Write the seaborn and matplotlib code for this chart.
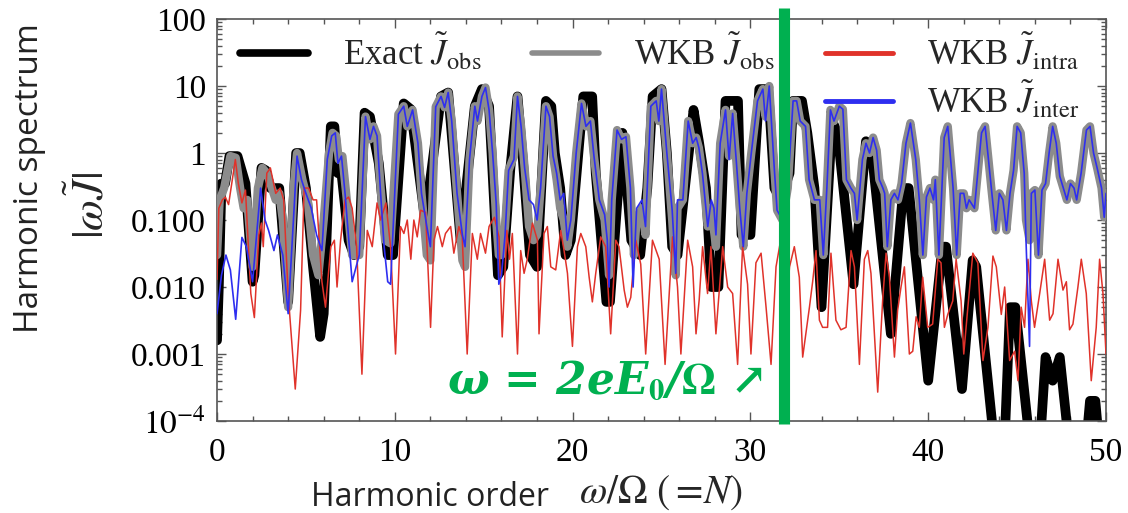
import matplotlib
matplotlib.use("Agg")
import matplotlib.pyplot as plt
from matplotlib.lines import Line2D
from matplotlib.ticker import FixedLocator, MultipleLocator, NullFormatter, LogLocator
import seaborn as sns

# ---- harmonic spectra: harmonic order N and |omega J~| for each curve ----
n_inter = [0.0, 0.25, 0.5, 0.75, 1.05, 1.4, 1.65, 2.0, 2.45, 2.7,
           2.9, 3.2, 3.4, 3.7, 4.0, 4.5, 4.75, 5.0, 5.3, 5.6,
           5.9, 6.2, 6.45, 6.65, 6.8, 7.0, 7.2, 7.6, 8.0, 8.35,
           8.6, 8.8, 9.0, 9.2, 9.4, 9.6, 9.76, 10.2, 10.5, 10.7,
           11.0, 11.3, 11.5, 11.8, 12.0, 12.3, 12.6, 12.8, 13.0, 13.2,
           13.5, 13.8, 13.95, 14.2, 14.5, 14.65, 14.9, 15.1, 15.3, 15.5,
           15.7, 15.85, 16.0, 16.2, 16.4, 16.7, 16.9, 17.1, 17.3, 17.55,
           17.8, 18.0, 18.2, 18.5, 18.7, 18.9, 19.1, 19.3, 19.5, 19.7,
           19.9, 20.2, 20.5, 20.75, 21.0, 21.2, 21.5, 21.8, 21.95, 22.05,
           22.2, 22.5, 22.75, 23.0, 23.25, 23.4, 23.6, 23.9, 24.1, 24.4,
           24.7, 24.85, 25.0, 25.3, 25.6, 25.8, 25.9, 26.2, 26.5, 26.75,
           26.95, 27.1, 27.3, 27.6, 27.8, 27.95, 28.06, 28.3, 28.6, 28.8,
           29.0, 29.2, 29.4, 29.6, 29.8, 30.05, 30.4, 30.7, 30.85, 31.06,
           31.35, 31.5, 31.8, 32.1, 32.4, 32.6, 32.8, 33.1, 33.3, 33.6,
           33.9, 34.1, 34.3, 34.5, 34.7, 35.0, 35.2, 35.4, 35.65, 35.85,
           36.0, 36.3, 36.5, 36.7, 36.9, 37.1, 37.25, 37.45, 37.55, 37.7,
           37.9, 38.1, 38.3, 38.5, 38.75, 39.0, 39.3, 39.5, 39.7, 39.9,
           40.1, 40.3, 40.4, 40.6, 40.9, 41.1, 41.4, 41.6, 41.8, 42.0,
           42.15, 42.3, 42.6, 42.8, 43.0, 43.2, 43.35, 43.55, 43.8, 44.0,
           44.2, 44.4, 44.6, 44.8, 45.0, 45.2, 45.4, 45.5, 45.7, 45.8,
           46.0, 46.2, 46.4, 46.6, 46.8, 47.0, 47.2, 47.4, 47.6, 47.8,
           48.0, 48.2, 48.35, 48.6, 48.9, 49.1, 49.3, 49.5, 49.75, 49.9, 50.0]
J_inter = [0.004, 0.015, 0.03, 0.018, 0.0033, 0.055, 0.04, 0.012, 0.3, 0.1,
           0.07, 0.035, 0.06, 0.03, 0.004, 0.9, 0.4, 0.25, 0.15, 0.06,
           0.035, 0.8, 1.8, 2.0, 0.7, 0.9, 0.25, 0.012, 0.03, 3.5,
           1.6, 2.5, 1.8, 0.25, 0.04, 0.012, 0.011, 3.8, 5.0, 2.5,
           4.4, 1.4, 0.25, 0.08, 0.04, 4.9, 7.0, 4.8, 8.0, 3.0,
           0.25, 0.06, 0.04, 0.8, 5.0, 3.0, 7.0, 9.5, 4.4, 1.0,
           0.18, 0.011, 0.015, 0.06, 0.55, 0.8, 7.0, 2.5, 0.6, 0.2,
           0.17, 0.1, 0.3, 5.0, 3.5, 0.9, 0.5, 0.2, 0.25, 0.05,
           0.1, 1.0, 5.5, 2.5, 3.0, 0.9, 0.2, 0.12, 0.05, 0.01,
           0.2, 2.2, 1.6, 1.75, 0.3, 0.01, 0.15, 0.2, 0.08, 5.0,
           6.0, 3.0, 9.0, 1.0, 0.14, 0.016, 0.2, 0.2, 3.0, 1.4,
           1.7, 1.2, 0.5, 0.08, 0.2, 0.15, 0.06, 1.4, 4.4, 0.8,
           3.9, 0.8, 0.15, 0.04, 0.25, 1.0, 6.0, 9.0, 3.0, 10.0,
           0.55, 0.14, 0.1, 0.3, 6.0, 6.0, 3.0, 2.5, 0.4, 0.2,
           0.2, 0.03, 0.3, 4.4, 3.0, 5.0, 4.5, 0.4, 0.3, 0.25,
           0.1, 0.8, 1.4, 1.0, 1.7, 1.1, 0.4, 0.3, 0.25, 0.04,
           0.2, 0.25, 0.2, 0.35, 1.4, 2.8, 0.8, 0.2, 0.03, 0.22,
           0.3, 0.2, 0.4, 0.03, 1.7, 2.5, 0.3, 0.03, 0.25, 0.25,
           0.15, 0.2, 0.15, 0.55, 2.0, 2.5, 1.0, 0.3, 0.07, 0.25,
           0.2, 0.07, 0.25, 0.55, 2.5, 2.0, 0.5, 0.05, 0.0013, 0.25,
           0.28, 0.03, 0.28, 0.35, 1.0, 2.5, 1.4, 0.45, 0.3, 0.2,
           0.35, 0.3, 0.2, 0.5, 2.2, 2.5, 1.0, 0.6, 0.3, 0.11, 0.25]

n_obs = [0.0, 0.15, 0.4, 0.75, 1.05, 1.3, 1.5, 1.7, 2.0, 2.3,
         2.55, 2.8, 3.0, 3.3, 3.5, 3.7, 4.0, 4.3, 4.5, 4.8,
         5.1, 5.4, 5.7, 6.0, 6.3, 6.5, 6.7, 6.85, 7.05, 7.3,
         7.6, 8.0, 8.35, 8.6, 8.8, 9.0, 9.2, 9.45, 9.75, 10.2,
         10.5, 10.7, 11.0, 11.3, 11.5, 11.8, 12.0, 12.3, 12.6, 12.8,
         13.0, 13.2, 13.5, 13.8, 13.95, 14.2, 14.5, 14.65, 14.9, 15.1,
         15.3, 15.5, 15.7, 15.85, 16.0, 16.2, 16.4, 16.7, 16.9, 17.1,
         17.3, 17.55, 17.8, 18.0, 18.2, 18.5, 18.7, 18.9, 19.1, 19.3,
         19.5, 19.7, 19.9, 20.2, 20.5, 20.75, 21.0, 21.2, 21.5, 21.8,
         22.05, 22.2, 22.5, 22.75, 23.0, 23.25, 23.45, 23.6, 23.9, 24.1,
         24.4, 24.7, 24.85, 25.0, 25.3, 25.6, 25.8, 25.9, 26.2, 26.5,
         26.75, 26.95, 27.1, 27.3, 27.6, 27.8, 28.06, 28.3, 28.6, 28.8,
         29.0, 29.2, 29.4, 29.6, 29.8, 30.05, 30.4, 30.7, 30.85, 31.06,
         31.35, 31.5, 31.8, 32.1, 32.4, 32.6, 32.8, 33.1, 33.3, 33.6,
         33.9, 34.1, 34.3, 34.5, 34.7, 35.0, 35.2, 35.4, 35.65, 35.85,
         36.0, 36.3, 36.5, 36.7, 36.9, 37.1, 37.25, 37.45, 37.55, 37.7,
         37.9, 38.1, 38.3, 38.5, 38.75, 39.0, 39.3, 39.5, 39.7, 39.9,
         40.1, 40.3, 40.4, 40.6, 40.9, 41.1, 41.4, 41.6, 41.8, 42.0,
         42.15, 42.3, 42.6, 42.8, 43.0, 43.2, 43.35, 43.55, 43.8, 44.0,
         44.2, 44.4, 44.6, 44.8, 45.0, 45.2, 45.4, 45.5, 45.7, 45.8,
         46.0, 46.2, 46.4, 46.6, 46.8, 47.0, 47.2, 47.4, 47.6, 47.8,
         48.0, 48.2, 48.35, 48.6, 48.9, 49.1, 49.3, 49.5, 49.75, 49.9, 50.0]
J_obs = [0.03, 0.2, 0.3, 0.9, 0.85, 0.3, 0.15, 0.2, 0.02, 0.3,
         0.6, 0.5, 0.35, 0.2, 0.25, 0.1, 0.005, 0.3, 1.0, 0.4,
         0.2, 0.03, 0.015, 0.1, 1.0, 2.0, 1.8, 0.8, 0.9, 0.2,
         0.03, 0.03, 3.5, 1.6, 2.5, 1.8, 0.3, 0.05, 0.045, 3.8,
         5.0, 2.5, 4.4, 1.4, 0.25, 0.03, 0.025, 4.9, 7.0, 4.8,
         8.0, 3.0, 0.25, 0.025, 0.02, 0.8, 5.0, 3.0, 7.0, 9.5,
         4.4, 1.0, 0.1, 0.03, 0.03, 0.08, 0.55, 0.9, 7.0, 2.5,
         0.6, 0.08, 0.05, 0.06, 0.3, 5.0, 3.5, 0.9, 0.4, 0.15,
         0.1, 0.04, 0.1, 1.0, 5.5, 2.5, 3.0, 0.9, 0.2, 0.1,
         0.015, 0.2, 2.2, 1.6, 1.75, 0.3, 0.03, 0.1, 0.15, 0.06,
         5.0, 6.0, 3.0, 9.0, 1.0, 0.1, 0.015, 0.15, 0.2, 3.0,
         1.4, 1.7, 1.2, 0.5, 0.08, 0.15, 0.04, 1.4, 4.4, 0.9,
         3.9, 0.8, 0.15, 0.04, 0.25, 1.0, 6.0, 9.0, 3.5, 10.0,
         0.55, 0.14, 0.1, 0.3, 6.0, 6.0, 3.0, 2.5, 0.4, 0.2,
         0.2, 0.03, 0.3, 4.4, 3.0, 5.0, 4.5, 0.4, 0.3, 0.25,
         0.1, 0.8, 1.4, 1.0, 1.7, 1.1, 0.4, 0.3, 0.25, 0.04,
         0.2, 0.25, 0.2, 0.35, 1.4, 2.8, 0.8, 0.2, 0.03, 0.22,
         0.3, 0.2, 0.4, 0.03, 1.7, 2.5, 0.3, 0.03, 0.25, 0.25,
         0.15, 0.2, 0.15, 0.55, 2.0, 2.5, 1.0, 0.3, 0.07, 0.25,
         0.2, 0.07, 0.25, 0.55, 2.5, 2.0, 0.5, 0.1, 0.05, 0.25,
         0.28, 0.03, 0.28, 0.35, 1.0, 2.5, 1.4, 0.45, 0.3, 0.2,
         0.35, 0.3, 0.2, 0.5, 2.2, 2.5, 1.0, 0.6, 0.3, 0.11, 0.25]

n_exact = [0.0, 0.1, 0.25, 0.45, 0.7, 1.15, 1.6, 2.0, 2.1, 2.5,
           2.75, 3.0, 3.5, 4.0, 4.45, 4.65, 5.0, 5.4, 5.8, 6.0,
           6.4, 6.6, 6.8, 7.0, 7.4, 7.7, 8.0, 8.3, 8.6, 9.1,
           9.6, 9.9, 10.5, 10.9, 11.7, 12.6, 13.0, 13.7, 14.5, 14.9,
           15.3, 15.8, 16.1, 16.5, 16.9, 17.2, 17.6, 18.0, 18.5, 18.8,
           19.0, 19.3, 19.6, 19.9, 20.6, 21.1, 21.3, 21.9, 22.1, 22.8,
           23.3, 23.8, 24.2, 24.5, 25.0, 25.3, 25.6, 25.9, 26.8, 27.1,
           27.5, 27.8, 28.2, 28.6, 29.3, 29.5, 30.0, 30.5, 31.0, 31.35,
           31.7, 32.2, 32.4, 32.9, 33.2, 33.6, 34.0, 34.6, 34.9, 35.8,
           36.5, 36.8, 37.9, 38.6, 38.9, 40.0, 40.8, 41.0, 41.9, 42.5,
           42.7, 43.7, 44.3, 44.6, 44.9, 45.7, 46.3, 46.6, 47.0, 47.4,
           47.9, 48.9, 49.1, 49.4, 49.6, 50.0]
J_exact = [0.0016, 0.01, 0.35, 0.35, 0.9, 0.9, 0.35, 0.012, 0.015, 0.6,
           0.55, 0.3, 0.3, 0.006, 1.0, 1.0, 0.3, 0.02, 0.0018, 0.004,
           2.5, 2.5, 0.5, 0.5, 0.05, 0.03, 0.04, 4.0, 3.5, 0.7,
           0.03, 0.03, 5.5, 4.5, 0.1, 7.0, 8.0, 0.05, 5.0, 9.0,
           5.0, 0.015, 0.02, 0.6, 7.0, 0.8, 0.03, 0.02, 6.0, 5.0,
           1.0, 0.3, 0.03, 0.05, 7.0, 7.0, 0.5, 0.006, 0.006, 2.0,
           0.05, 0.03, 0.3, 7.0, 9.0, 1.0, 0.04, 0.03, 4.4, 1.5,
           0.3, 0.01, 0.01, 6.0, 6.0, 0.06, 0.06, 9.0, 9.0, 0.3,
           0.2, 0.5, 6.0, 6.0, 2.0, 0.3, 0.005, 3.0, 2.0, 0.011,
           1.5, 1.2, 0.002, 0.3, 0.3, 0.0004, 0.04, 0.04, 0.0003, 0.025,
           0.02, 5e-5, 5e-5, 0.005, 0.005, 5e-5, 5e-5, 0.0009, 0.0004, 0.0009,
           5e-5, 5e-5, 0.0002, 0.0002, 5e-5, 5e-5]

n_intra = [0.0, 0.1, 0.3, 0.47, 0.65, 1.03, 1.2, 1.4, 1.6, 1.9,
           2.1, 2.35, 2.5, 2.6, 2.8, 3.0, 3.3, 3.55, 3.75, 4.0,
           4.4, 4.7, 4.9, 5.15, 5.4, 5.6, 5.9, 6.1, 6.4, 6.6,
           6.75, 6.95, 7.2, 7.4, 7.6, 7.85, 8.15, 8.45, 8.73, 9.0,
           9.2, 9.5, 9.76, 10.04, 10.32, 10.51, 10.7, 10.9, 11.07, 11.26,
           11.45, 11.73, 12.01, 12.2, 12.4, 12.67, 12.85, 13.14, 13.32, 13.6,
           13.79, 14.07, 14.36, 14.64, 14.82, 15.1, 15.3, 15.6, 15.86, 16.04,
           16.3, 16.45, 16.61, 16.9, 17.08, 17.27, 17.45, 17.74, 18.02, 18.11,
           18.39, 18.58, 18.77, 19.05, 19.33, 19.52, 19.71, 19.99, 20.27, 20.46,
           20.74, 20.93, 21.11, 21.3, 21.58, 21.86, 22.14, 22.43, 22.61, 22.9,
           23.08, 23.27, 23.55, 23.83, 24.11, 24.49, 24.87, 25.2, 25.62, 25.9,
           26.09, 26.47, 26.75, 26.94, 27.12, 27.31, 27.59, 27.78, 28.06, 28.44,
           28.72, 29.0, 29.28, 29.56, 29.84, 30.03, 30.31, 30.6, 30.88, 31.16,
           31.44, 31.7, 32.0, 32.2, 32.47, 32.75, 32.94, 33.32, 33.5, 33.69,
           33.88, 34.06, 34.34, 34.53, 34.81, 35.09, 35.38, 35.66, 35.85, 36.13,
           36.41, 36.6, 36.78, 37.16, 37.44, 37.63, 37.82, 38.1, 38.28, 38.47,
           38.66, 38.94, 39.13, 39.32, 39.5, 39.69, 39.97, 40.25, 40.54, 40.72,
           40.91, 41.1, 41.38, 41.57, 41.85, 42.0, 42.23, 42.51, 42.79, 43.08,
           43.36, 43.64, 43.83, 44.11, 44.3, 44.58, 44.86, 45.05, 45.23, 45.42,
           45.61, 45.8, 45.98, 46.27, 46.55, 46.83, 47.02, 47.3, 47.58, 47.77,
           47.95, 48.14, 48.42, 48.61, 48.89, 49.17, 49.45, 49.64, 49.83, 50.0]
J_intra = [0.013, 0.15, 0.2, 0.22, 0.17, 0.8, 0.35, 0.18, 0.28, 0.008,
           0.0035, 0.06, 0.09, 0.04, 0.5, 0.6, 0.25, 0.3, 0.2, 0.008,
           0.0003, 0.0045, 0.3, 0.3, 0.2, 0.2, 0.012, 0.005, 0.04, 0.05,
           0.01, 0.05, 0.2, 0.22, 0.15, 0.04, 0.0005, 0.07, 0.04, 0.18,
           0.1, 0.18, 0.04, 0.001, 0.08, 0.063, 0.1, 0.026, 0.1, 0.056,
           0.14, 0.13, 0.0025, 0.05, 0.08, 0.04, 0.063, 0.08, 0.032, 0.08,
           0.056, 0.001, 0.063, 0.026, 0.063, 0.032, 0.08, 0.11, 0.056, 0.0018,
           0.07, 0.026, 0.063, 0.001, 0.035, 0.016, 0.026, 0.09, 0.05, 0.002,
           0.063, 0.08, 0.02, 0.018, 0.07, 0.035, 0.016, 0.0013, 0.04, 0.063,
           0.04, 0.014, 0.006, 0.016, 0.056, 0.04, 0.002, 0.05, 0.04, 0.009,
           0.005, 0.007, 0.05, 0.022, 0.001, 0.05, 0.026, 0.0007, 0.056, 0.01,
           0.001, 0.05, 0.02, 0.002, 0.0065, 0.04, 0.008, 0.04, 0.002, 0.04,
           0.01, 0.008, 0.0007, 0.04, 0.011, 0.001, 0.023, 0.032, 0.005, 0.0007,
           0.02, 0.05, 0.004, 0.02, 0.04, 0.014, 0.0009, 0.005, 0.012, 0.035,
           0.0032, 0.0025, 0.0025, 0.032, 0.0032, 0.0023, 0.0025, 0.035, 0.02, 0.0007,
           0.026, 0.035, 0.016, 0.00027, 0.0065, 0.032, 0.014, 0.0009, 0.0045, 0.01,
           0.02, 0.001, 0.0011, 0.0036, 0.0025, 0.014, 0.0025, 0.0028, 0.026, 0.023,
           0.0025, 0.0039, 0.0062, 0.026, 0.0062, 0.001, 0.005, 0.032, 0.023, 0.0008,
           0.0025, 0.029, 0.02, 0.0039, 0.01, 0.0008, 0.0011, 0.0004, 0.005, 0.0025,
           0.026, 0.0062, 0.0025, 0.008, 0.026, 0.0032, 0.004, 0.026, 0.009, 0.012,
           0.0023, 0.0028, 0.01, 0.026, 0.008, 0.0004, 0.0025, 0.026, 0.008, 0.001]

# threshold harmonic 2eE0/Omega
n_cutoff = 31.9

# axis ticks
x_major = [0, 10, 20, 30, 40, 50]
y_major = [1e2, 1e1, 1e0, 1e-1, 1e-2, 1e-3, 1e-4]
y_labels = ["100", "10", "1", "0.100", "0.010", "0.001", r"$10^{-4}$"]

legend_labels = [r"Exact $\tilde{J}_{\rm obs}$", r"WKB $\tilde{J}_{\rm obs}$",
                 r"WKB $\tilde{J}_{\rm intra}$", r"WKB $\tilde{J}_{\rm inter}$"]

# ---- style ----
sns.set_style("ticks")
plt.rcParams.update({
    "font.family": ["Liberation Serif", "DejaVu Serif"],
    "mathtext.fontset": "stix",
    "axes.edgecolor": "#555555",
    "axes.linewidth": 1.2,
    "xtick.color": "#555555",
    "ytick.color": "#555555",
    "xtick.labelcolor": "black",
    "ytick.labelcolor": "black",
})

C_EXACT = "black"
C_OBS = "#8c8c8c"
C_INTRA = "#e0322a"
C_INTER = "#2e2ef0"
C_GREEN = "#00b050"

fig = plt.figure(figsize=(11.28, 5.13), dpi=100)
ax = fig.add_axes([0.1924, 0.1793, 0.7881, 0.7836])

common = dict(ax=ax, estimator=None, sort=False, legend=False)
sns.lineplot(x=n_exact, y=J_exact, color=C_EXACT, linewidth=7.0, zorder=2, **common)
sns.lineplot(x=n_obs, y=J_obs, color=C_OBS, linewidth=6.0, zorder=3, **common)
sns.lineplot(x=n_intra, y=J_intra, color=C_INTRA, linewidth=1.1, zorder=4, **common)
sns.lineplot(x=n_inter, y=J_inter, color=C_INTER, linewidth=1.2, zorder=5, **common)

ax.set_yscale("log")
ax.set_xlim(0, 50)
ax.set_ylim(1e-4, 1e2)

ax.xaxis.set_major_locator(FixedLocator(x_major))
ax.xaxis.set_minor_locator(MultipleLocator(2))
ax.set_yticks(y_major)
ax.set_yticklabels(y_labels)
ax.yaxis.set_minor_locator(LogLocator(base=10, subs=[2, 3, 4, 5, 6, 7, 8, 9], numticks=20))
ax.yaxis.set_minor_formatter(NullFormatter())
ax.tick_params(which="both", direction="in", top=True, right=True, width=1.0)
ax.tick_params(which="major", length=6.5, labelsize=24)
ax.tick_params(axis="y", which="major", pad=8)
ax.tick_params(axis="x", which="major", pad=12)
ax.tick_params(which="minor", length=3.5)
ax.set_xlabel("")
ax.set_ylabel("")

# threshold marker
ax.axvline(n_cutoff, ymin=-0.008, ymax=1.027, color=C_GREEN, linewidth=8,
           clip_on=False, zorder=8, solid_capstyle="butt")
fig.text(0.396, 0.232, r"ω = 2eE$_{\mathbf{0}}$/$\mathbf{\Omega}$ ↗", color=C_GREEN,
         fontsize=31.5, fontweight="bold", fontstyle="italic",
         family=["DejaVu Serif", "DejaVu Sans"], ha="left", va="baseline")

# legend: three columns, last column holds two entries
blank = Line2D([], [], linestyle="none")
handles = [Line2D([], [], color=C_EXACT, linewidth=5.5), blank,
           Line2D([], [], color=C_OBS, linewidth=4.0), blank,
           Line2D([], [], color=C_INTRA, linewidth=3.5),
           Line2D([], [], color=C_INTER, linewidth=3.5)]
labels = [legend_labels[0], "", legend_labels[1], "", legend_labels[2], legend_labels[3]]
leg = ax.legend(handles, labels, ncol=3, loc="upper left",
                bbox_to_anchor=(0.026, 0.968), frameon=False, fontsize=25,
                handlelength=1.95, handletextpad=1.0, columnspacing=1.45,
                borderpad=0, borderaxespad=0, labelspacing=0.2)
leg.set_zorder(7)

# axis titles
fig.text(30 / 1128, 1 - 178 / 513, "Harmonic spectrum", rotation=90,
         ha="center", va="center", fontsize=24, family="Open Sans", color="#222222")
fig.text(90 / 1128, 1 - 205 / 513, r"$|\omega\tilde{J}|$", rotation=90,
         ha="center", va="center", fontsize=32)
fig.text(430 / 1128, 1 - 497 / 513, "Harmonic order",
         ha="center", va="center", fontsize=23, family="Open Sans", color="#222222")
fig.text(661 / 1128, 1 - 493 / 513, r"$\omega/\Omega\ (=\!N)$",
         ha="center", va="center", fontsize=28.5)

fig.savefig("out.png", dpi=100)
